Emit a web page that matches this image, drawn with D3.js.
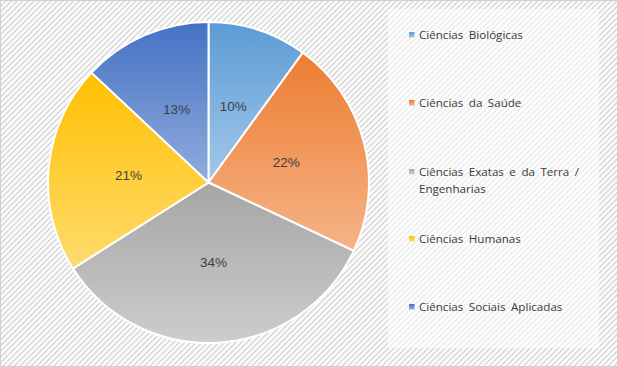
<!DOCTYPE html>
<html><head><meta charset="utf-8">
<script src="https://cdn.jsdelivr.net/npm/d3@7"></script>
<style>html,body{margin:0;padding:0;background:#fff;}svg{display:block;}</style>
</head><body>
<svg id="chart" width="618" height="367"></svg>
<script>
const categories = ["Ciências Biológicas","Ciências da Saúde","Ciências Exatas e da Terra / Engenharias","Ciências Humanas","Ciências Sociais Aplicadas"];
const legendLines = [["Ciências Biológicas"],["Ciências da Saúde"],["Ciências Exatas e da Terra /","Engenharias"],["Ciências Humanas"],["Ciências Sociais Aplicadas"]];
const values = [10,22,34,21,13];
const labels = ["10%","22%","34%","21%","13%"];
const colorTop = ["#5b9bd5","#ed7d31","#a5a5a5","#ffc000","#4472c4"];
const colorBottom = ["#a4c8e9","#f5b488","#cdcdcd","#ffdb6e","#91acdc"];

const svg = d3.select("#chart");
const defs = svg.append("defs");
function stripes(id, bg, fg){
  const p = defs.append("pattern").attr("id",id).attr("patternUnits","userSpaceOnUse")
    .attr("width",4).attr("height",4).attr("patternTransform","rotate(45)");
  p.append("rect").attr("width",4).attr("height",4).attr("fill",bg);
  p.append("rect").attr("width",1.6).attr("height",4).attr("fill",fg);
}
stripes("bgPat","#ffffff","#d6d6d6");
stripes("lgPat","#ffffff","#ececec");
colorTop.forEach((c,i)=>{
  const g = defs.append("linearGradient").attr("id","g"+i).attr("x1",0).attr("y1",0).attr("x2",0).attr("y2",1);
  g.append("stop").attr("offset","0%").attr("stop-color",c);
  g.append("stop").attr("offset","100%").attr("stop-color",colorBottom[i]);
});

svg.append("rect").attr("x",0.5).attr("y",0.5).attr("width",617).attr("height",366)
  .attr("fill","url(#bgPat)").attr("stroke","#d0d0d0").attr("stroke-width",1);
svg.append("rect").attr("x",388).attr("y",9).attr("width",211).attr("height",339).attr("fill","url(#lgPat)");

const cx = 208.5, cy = 182.5, R = 160.5;
const pie = d3.pie().sort(null).value(d=>d)(values);
const arc = d3.arc().innerRadius(0).outerRadius(R);
const g = svg.append("g").attr("transform",`translate(${cx},${cy})`);
g.selectAll("path.slice").data(pie).join("path").attr("class","slice")
  .attr("d",arc).attr("fill",(d,i)=>`url(#g${i})`).attr("stroke","#fff").attr("stroke-width",2);
const labelArc = d3.arc().innerRadius(R*0.5).outerRadius(R*0.5);
g.selectAll("text.lbl").data(pie).join("text").attr("class","lbl")
  .attr("transform",d=>`translate(${labelArc.centroid(d)})`)
  .attr("text-anchor","middle").attr("dy","0.35em")
  .attr("font-family","Liberation Sans, Arial, sans-serif").attr("font-size",13.5).attr("fill","#404040")
  .text((d,i)=>labels[i]);

const legendY = [35,103,172,239,307];
const lg = svg.append("g");
legendLines.forEach((lines,i)=>{
  lg.append("rect").attr("x",409).attr("y",legendY[i]-3).attr("width",5.5).attr("height",5.5)
    .attr("fill",`url(#g${i})`);
  const t = lg.append("text").attr("font-family","Open Sans, sans-serif").attr("font-size",11.6)
    .attr("word-spacing",2.5).attr("fill","#3a3a3a");
  lines.forEach((ln,j)=>{
    t.append("tspan").attr("x",419).attr("y",legendY[i]+j*16.5).attr("dy","0.35em").text(ln);
  });
});
</script>
</body></html>
